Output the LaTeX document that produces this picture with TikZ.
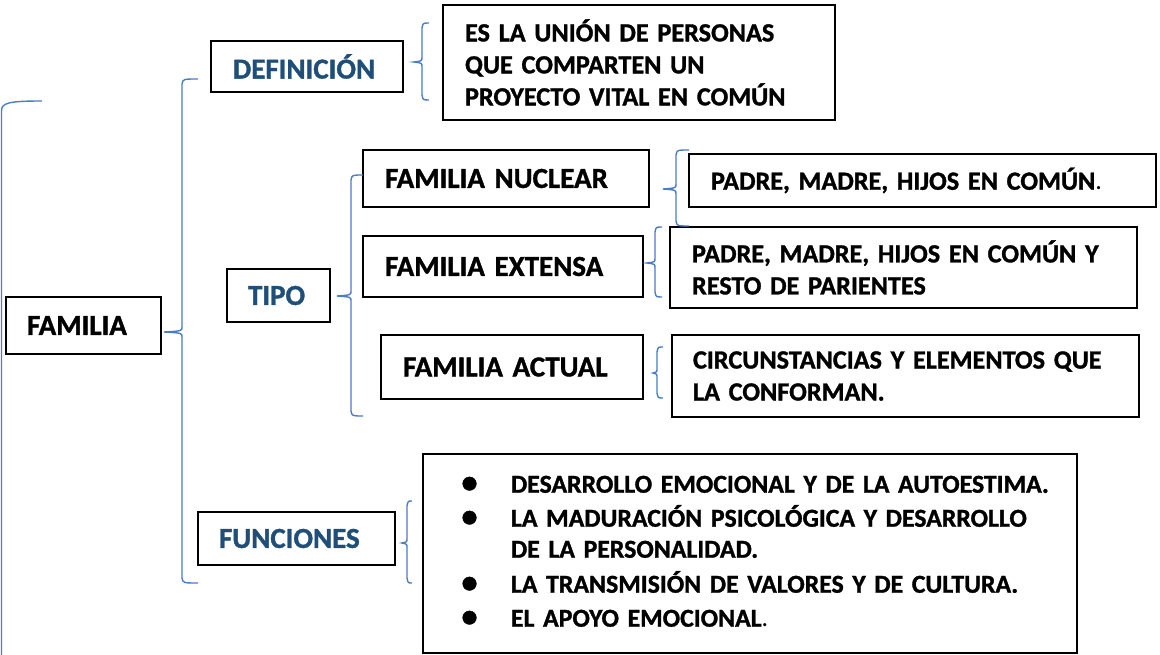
\documentclass[tikz,border=0pt]{standalone}
\usepackage{fontspec}
\setmainfont{Carlito}[WordSpace=0.7, BoldFeatures={FakeBold=1.2}]
\definecolor{lblue}{HTML}{4A7DC4}
\definecolor{dblue}{HTML}{1F4E79}
\newcommand\bkt[6]{% x xl xr ytop ymid ybot
  \coordinate (t) at (#3,#4);
  \coordinate (m) at (#2,#5);
  \coordinate (b) at (#3,#6);
  \draw[brk] (t) .. controls ({#1+1},#4) .. ({#1},{#4+5}) -- ({#1},{#5-5})
    .. controls ({#1},{#5-1}) .. (m) .. controls ({#1},{#5+1}) .. ({#1},{#5+5})
    -- ({#1},{#6-5}) .. controls ({#1+1},#6) .. (b);}
\begin{document}
\begin{tikzpicture}[x=1pt,y=-1pt,
  box/.style={draw=black, line width=1.6pt, inner sep=0pt, align=left,
    font=\bfseries\fontsize{29}{32}\selectfont},
  sbox/.style={box, font=\bfseries\fontsize{26.2}{32}\selectfont},
  blab/.style={box, text=dblue},
  brk/.style={draw=lblue, line width=1.4pt}]
\useasboundingbox (0,0) rectangle (1160,655);
% main labels
\node[box, minimum width=155pt, minimum height=57pt, text width=113pt] (fam) at (83.5,325.5) {FAMILIA};
\node[blab, minimum width=192pt, minimum height=51pt, text width=148pt] (def) at (307,66.5) {DEFINICIÓN};
\node[blab, minimum width=103pt, minimum height=53pt, text width=61pt] (tipo) at (278.5,295.5) {TIPO};
\node[blab, minimum width=197pt, minimum height=53pt, text width=155pt] (fun) at (296.5,538.5) {FUNCIONES};
% definition text
\node[sbox, minimum width=392pt, minimum height=115pt, text width=348pt] (deftext) at (639,62.5)
  {ES LA UNIÓN DE PERSONAS\\QUE COMPARTEN UN\\PROYECTO VITAL EN COMÚN};
% types
\node[box, minimum width=286pt, minimum height=57pt, text width=242pt] (nuc) at (506,178.5) {FAMILIA NUCLEAR};
\node[box, minimum width=280pt, minimum height=61pt, text width=236pt] (ext) at (503,266.5) {FAMILIA EXTENSA};
\node[box, minimum width=262pt, minimum height=64pt, text width=218pt] (act) at (512,367) {FAMILIA ACTUAL};
\node[sbox, minimum width=467pt, minimum height=53pt, text width=423pt] (nuctext) at (922.5,180.5)
  {PADRE, MADRE, HIJOS EN COMÚN{\mdseries .}};
\node[sbox, minimum width=467pt, minimum height=81pt, text width=423pt] (exttext) at (903.5,267.5)
  {PADRE, MADRE, HIJOS EN COMÚN Y\\RESTO DE PARIENTES};
\node[sbox, minimum width=467pt, minimum height=82pt, text width=425pt] (acttext) at (905.5,376)
  {CIRCUNSTANCIAS Y ELEMENTOS QUE\\LA CONFORMAN.};
% functions
\node[sbox, minimum width=654pt, minimum height=199pt, text width=582pt,
  font=\bfseries\fontsize{25.8}{31}\selectfont] (funtext) at (750,553.5)
  {\begin{tabular}{@{}p{52pt}@{}l@{}}
   \hspace*{2.5pt}\scalebox{1.25}{\textbullet} & DESARROLLO EMOCIONAL Y DE LA AUTOESTIMA.\\[3pt]
   \hspace*{2.5pt}\scalebox{1.25}{\textbullet} & LA MADURACIÓN PSICOLÓGICA Y DESARROLLO\\
   & DE LA PERSONALIDAD.\\[4pt]
   \hspace*{2.5pt}\scalebox{1.25}{\textbullet} & LA TRANSMISIÓN DE VALORES Y DE CULTURA.\\[3pt]
   \hspace*{2.5pt}\scalebox{1.25}{\textbullet} & EL APOYO EMOCIONAL{\mdseries .}
   \end{tabular}};
% brackets
\coordinate (bigtop) at (42,101);
\coordinate (bigbot) at (1.5,660);
\draw[brk] (bigtop) .. controls (8,101) and (1.5,103) .. (1.5,111) -- (bigbot);
\bkt{182}{164}{198}{79}{332}{583}
\bkt{422}{414}{429}{23}{62}{100}
\bkt{351}{337}{363}{175}{296}{416}
\bkt{676}{663}{689}{150}{189}{226}
\bkt{655}{647}{662}{227}{263}{297}
\bkt{657}{653}{663}{347}{373}{398}
\bkt{407}{402}{412}{501}{543}{583}
\end{tikzpicture}
\end{document}
